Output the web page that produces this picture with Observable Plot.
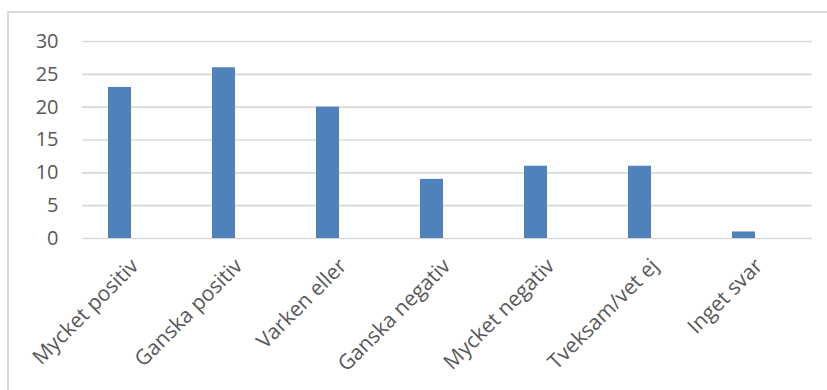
<!DOCTYPE html>
<html>
<head>
<meta charset="utf-8">
<script src="https://cdn.jsdelivr.net/npm/d3@7"></script>
<script src="https://cdn.jsdelivr.net/npm/@observablehq/plot@0.6"></script>
<style>
  html, body { margin: 0; padding: 0; background: #fff; }
  #wrap { position: relative; width: 827px; height: 390px; overflow: hidden; }
  #frame { position: absolute; left: 7px; top: 11px; width: 900px; height: 500px;
           border-left: 2px solid #d9d9d9; border-top: 2px solid #d9d9d9; }
  #chart { position: absolute; left: 0; top: 0; }
</style>
</head>
<body>
<div id="wrap"><div id="frame"></div><div id="chart"></div></div>
<script>
const categories = ["Mycket positiv", "Ganska positiv", "Varken eller", "Ganska negativ", "Mycket negativ", "Tveksam/vet ej", "Inget svar"];
const values = [23, 26, 20, 9, 11, 11, 1];
const yTicks = [0, 5, 10, 15, 20, 25, 30];

const data = categories.map((c, i) => ({category: c, value: values[i]}));

const chart = Plot.plot({
  width: 827,
  height: 390,
  marginLeft: 82,
  marginRight: 15,
  marginTop: 41,
  marginBottom: 152,
  style: {fontFamily: "'Open Sans', sans-serif", fontSize: "20px", color: "#595959", background: "transparent"},
  x: {type: "band", domain: categories, range: [67, 796], paddingInner: 0.78, paddingOuter: 0.39, axis: null},
  y: {domain: [0, 30], ticks: yTicks, tickSize: 0, tickPadding: 24, tickFormat: d => String(d), label: null},
  marks: [
    Plot.ruleY(yTicks, {stroke: "#d9d9d9", strokeWidth: 1.6}),
    Plot.barY(data, {x: "category", y: "value", fill: "#4f81bd"}),
    Plot.text(categories, {x: d => d, y: () => 0, rotate: -45, textAnchor: "end", dx: 15, dy: 24,
                           fill: "#595959", fontSize: 21})
  ]
});
document.getElementById("chart").append(chart);
</script>
</body>
</html>
